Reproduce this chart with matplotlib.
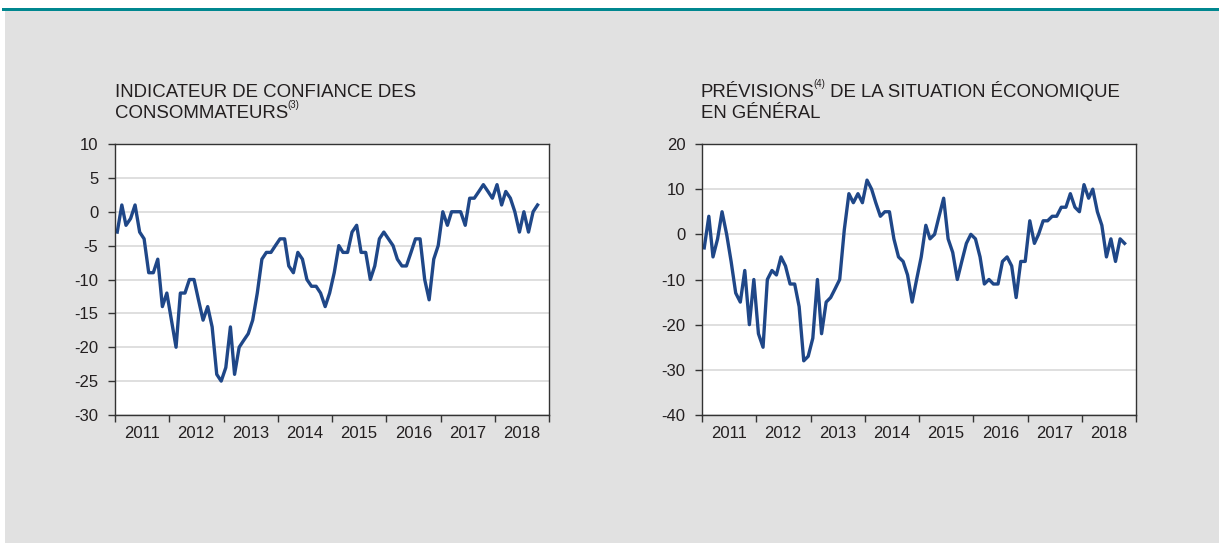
import pandas as pd
import matplotlib
matplotlib.use('Agg')
import matplotlib.pyplot as plt
import matplotlib.dates as mdates
from matplotlib.patches import Rectangle
from matplotlib.ticker import NullFormatter, MultipleLocator

# données mensuelles, janvier 2011 à octobre 2018
confiance = [-3, 1, -2, -1, 1, -3, -4, -9, -9, -7, -14, -12,
             -16, -20, -12, -12, -10, -10, -13, -16, -14, -17, -24, -25,
             -23, -17, -24, -20, -19, -18, -16, -12, -7, -6, -6, -5,
             -4, -4, -8, -9, -6, -7, -10, -11, -11, -12, -14, -12,
             -9, -5, -6, -6, -3, -2, -6, -6, -10, -8, -4, -3,
             -4, -5, -7, -8, -8, -6, -4, -4, -10, -13, -7, -5,
             0, -2, 0, 0, 0, -2, 2, 2, 3, 4, 3, 2,
             4, 1, 3, 2, 0, -3, 0, -3, 0, 1]

previsions = [-3, 4, -5, -1, 5, 0, -6, -13, -15, -8, -20, -10,
              -22, -25, -10, -8, -9, -5, -7, -11, -11, -16, -28, -27,
              -23, -10, -22, -15, -14, -12, -10, 1, 9, 7, 9, 7,
              12, 10, 7, 4, 5, 5, -1, -5, -6, -9, -15, -10,
              -5, 2, -1, 0, 4, 8, -1, -4, -10, -6, -2, 0,
              -1, -5, -11, -10, -11, -11, -6, -5, -7, -14, -6, -6,
              3, -2, 0, 3, 3, 4, 4, 6, 6, 9, 6, 5,
              11, 8, 10, 5, 2, -5, -1, -6, -1, -2]

mois = pd.date_range('2011-01-01', periods=len(confiance), freq='MS') + pd.Timedelta(days=15)

W, H = 1219, 543
texte = '#231f20'
bleu = '#1f4788'
plt.rcParams['font.family'] = ['Liberation Sans', 'DejaVu Sans']
plt.rcParams['axes.unicode_minus'] = False

fig = plt.figure(figsize=(W / 100, H / 100), dpi=100, facecolor='white')

# fond gris et filet turquoise
fig.patches.append(Rectangle((5 / W, 0), 1, 1 - 10.5 / H, transform=fig.transFigure,
                             facecolor='#e1e1e1', edgecolor='none', zorder=-10))
fig.patches.append(Rectangle((2 / W, 1 - 10.5 / H), 1, 3 / H, transform=fig.transFigure,
                             facecolor='#00878f', edgecolor='none', zorder=-9))


def titre(x, y, morceaux):
    r = fig.canvas.get_renderer()
    for s, taille, dy, dx in morceaux:
        t = fig.text((x + dx) / W, 1 - (y + dy) / H, s, fontsize=taille, color=texte,
                     ha='left', va='baseline')
        x = t.get_window_extent(r).x1


def graphique(x0, serie, ymin, ymax, pas):
    ax = fig.add_axes([x0 / W, 1 - 415 / H, 434 / W, 271 / H])
    ax.plot(mois, serie, color=bleu, lw=2.4)
    ax.set_xlim(pd.Timestamp('2011-01-01'), pd.Timestamp('2019-01-01'))
    ax.set_ylim(ymin, ymax)
    ax.yaxis.set_major_locator(MultipleLocator(pas))
    ax.xaxis.set_major_locator(mdates.YearLocator())
    ax.xaxis.set_major_formatter(NullFormatter())
    ax.xaxis.set_minor_locator(mdates.MonthLocator(bymonth=7))
    ax.xaxis.set_minor_formatter(mdates.DateFormatter('%Y'))
    ax.yaxis.grid(True, color='#d9d9d9', lw=1.2)
    ax.set_axisbelow(True)
    for sp in ax.spines.values():
        sp.set_color('#333333')
        sp.set_linewidth(1)
    ax.tick_params(axis='both', which='major', direction='out', length=5, width=1,
                   color='#333333', labelsize=12, labelcolor=texte)
    ax.tick_params(axis='y', pad=7)
    ax.tick_params(axis='x', which='minor', length=0, pad=8, labelsize=12, labelcolor=texte)
    return ax


graphique(115, confiance, -30, 10, 5)
graphique(702, previsions, -40, 20, 10)

titre(115, 96.7, [('INDICATEUR DE CONFIANCE DES', 13.4, 0, 0)])
titre(115, 118.3, [('CONSOMMATEURS', 13.4, 0, 0), ('(3)', 7, -10, -1)])
titre(701, 96.7, [('PRÉVISIONS', 13.4, 0, 0), ('(4)', 7, -10, -2),
                  (' DE LA SITUATION ÉCONOMIQUE', 13.4, 0, 0)])
titre(701, 118.3, [('EN GÉNÉRAL', 13.4, 0, 0)])

fig.savefig('out.png', dpi=100, facecolor='white')
